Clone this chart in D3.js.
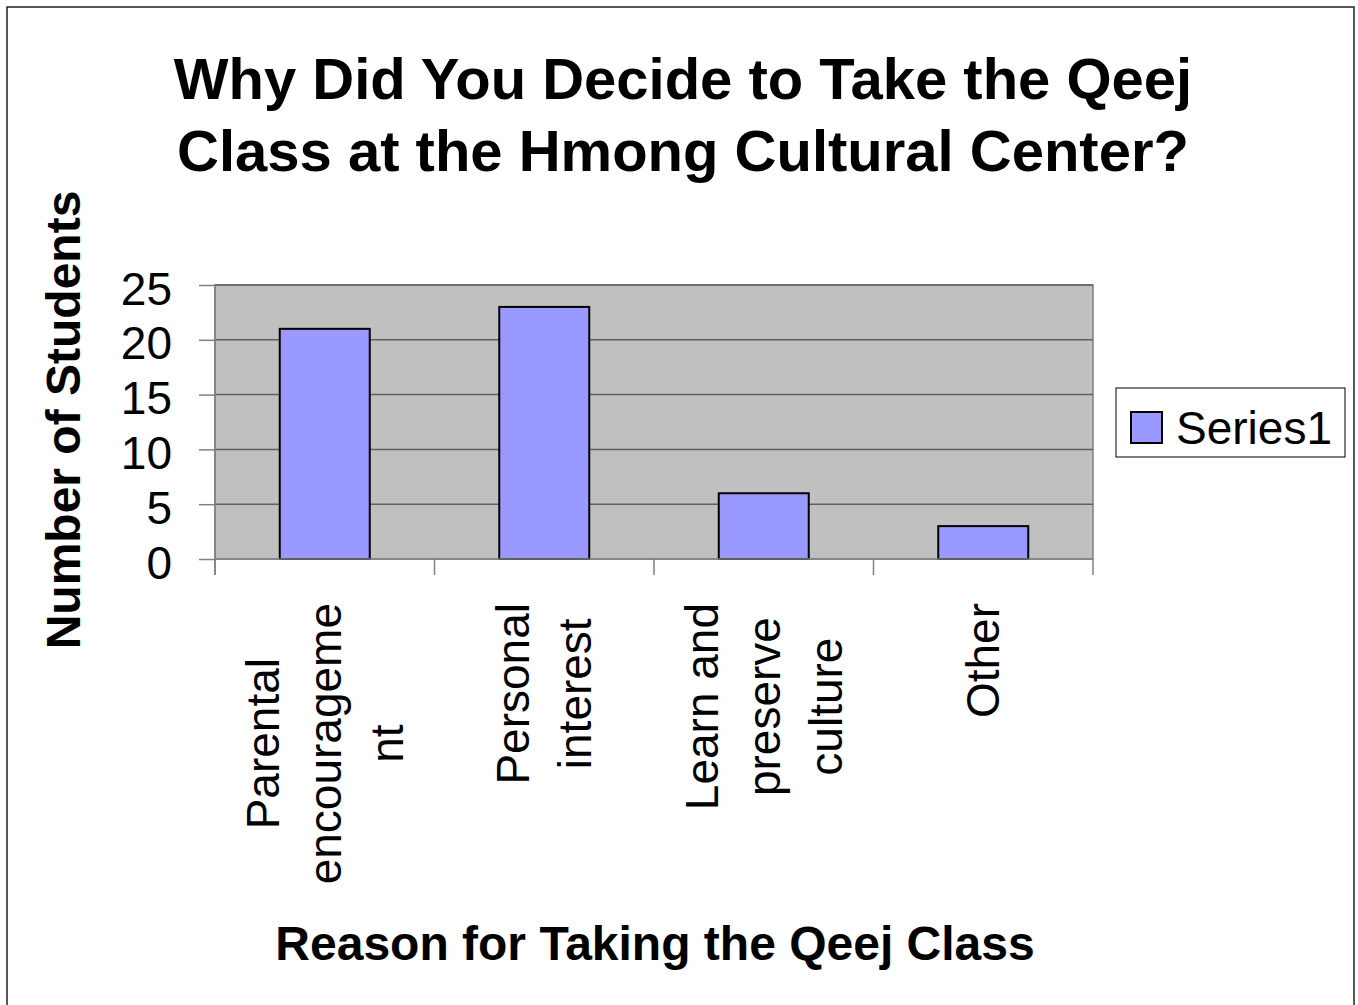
<!DOCTYPE html>
<html>
<head>
<meta charset="utf-8">
<script src="https://cdn.jsdelivr.net/npm/d3@7"></script>
<style>
  body { margin: 0; background: #fff; }
  svg { display: block; font-family: "Liberation Sans", Arial, sans-serif; }
</style>
</head>
<body>
<div id="chart"></div>
<script>
// data
const categories = ["Parental encouragement", "Personal interest", "Learn and preserve culture", "Other"];
// how excel wrapped the category labels
const categoryLines = [["Parental", "encourageme", "nt"], ["Personal", "interest"], ["Learn and", "preserve", "culture"], ["Other"]];
const series1 = [21, 23, 6, 3];
const yTicks = [0, 5, 10, 15, 20, 25];
const titleLines = ["Why Did You Decide to Take the Qeej", "Class at the Hmong Cultural Center?"];

const width = 1358, height = 1005;

const svg = d3.select("#chart")
    .append("svg")
    .attr("width", width)
    .attr("height", height);

// outer chart border
svg.append("rect")
    .attr("x", 7).attr("y", 7)
    .attr("width", 1347).attr("height", 1010)
    .style("fill", "#fff")
    .style("stroke", "#222")
    .style("stroke-width", 1.5);

const x = d3.scaleBand()
    .domain(categories)
    .range([215, 1093])
    .paddingInner(0.59)
    .paddingOuter(0.295);

const y = d3.scaleLinear()
    .domain([0, 25])
    .range([559, 285]);

// plot area
svg.append("rect")
    .attr("x", 215).attr("y", y(25))
    .attr("width", 1093 - 215).attr("height", y(0) - y(25))
    .style("fill", "#c0c0c0")
    .style("stroke", "#808080")
    .style("stroke-width", 1.5);

// gridlines
svg.selectAll(".grid")
    .data(yTicks.filter(d => d > 0))
    .enter()
    .append("line")
    .attr("x1", 215).attr("x2", 1093)
    .attr("y1", d => y(d)).attr("y2", d => y(d))
    .style("stroke", "#606060")
    .style("stroke-width", 1.5);

// bars
svg.selectAll(".bar")
    .data(series1)
    .enter()
    .append("rect")
    .attr("x", (d, i) => x(categories[i]))
    .attr("y", d => y(d))
    .attr("width", x.bandwidth())
    .attr("height", d => y(0) - y(d))
    .style("fill", "#9999ff")
    .style("stroke", "#000")
    .style("stroke-width", 2);

// y axis
const yAxis = svg.append("g")
    .attr("transform", "translate(215,0)")
    .call(d3.axisLeft(y).tickValues(yTicks).tickSize(16).tickPadding(27));
yAxis.select(".domain").attr("d", "M0," + (y(25)) + "V" + (y(0) + 16)).style("stroke", "#808080").style("stroke-width", 1.5);
yAxis.selectAll(".tick line").style("stroke", "#808080").style("stroke-width", 1.5);
yAxis.selectAll(".tick text")
    .attr("dy", "0.37em")
    .attr("y", 2)
    .style("font-size", "46px")
    .style("fill", "#000")
    .style("font-family", "'Liberation Sans', Arial, sans-serif");

// x axis: ticks on band boundaries
const boundaries = categories.map(c => x(c) - x.step() * x.paddingInner() / 2).concat([1093]);
boundaries[0] = 215;
svg.append("line")
    .attr("x1", 215).attr("x2", 1093)
    .attr("y1", y(0)).attr("y2", y(0))
    .style("stroke", "#808080").style("stroke-width", 1.5);
svg.selectAll(".xtick")
    .data(boundaries)
    .enter()
    .append("line")
    .attr("x1", d => d).attr("x2", d => d)
    .attr("y1", y(0)).attr("y2", y(0) + 16)
    .style("stroke", "#808080").style("stroke-width", 1.5);

// category labels, rotated, top of block at 603
const labelG = svg.selectAll(".cat")
    .data(categoryLines)
    .enter()
    .append("g")
    .attr("class", "cat");

labelG.each(function(lines, i) {
    const g = d3.select(this);
    const cx = x(categories[i]) + x.bandwidth() / 2;
    const txt = g.append("text")
        .attr("transform", "rotate(-90)")
        .style("font-size", "46px")
        .style("text-anchor", "middle");
    const spans = txt.selectAll("tspan")
        .data(lines)
        .enter()
        .append("tspan")
        .attr("y", (d, j) => cx + (j - (lines.length - 1) / 2) * 62 + 16)
        .text(d => d);
    let maxLen = 0;
    spans.each(function() { maxLen = Math.max(maxLen, this.getComputedTextLength()); });
    spans.attr("x", -(603 + maxLen / 2));
});

// title
svg.selectAll(".title")
    .data(titleLines)
    .enter()
    .append("text")
    .attr("x", 683)
    .attr("y", (d, i) => 99 + i * 72)
    .style("text-anchor", "middle")
    .style("font-size", "58px")
    .style("font-weight", "bold")
    .text(d => d);

// axis titles
svg.append("text")
    .attr("transform", "translate(80,420) rotate(-90)")
    .style("text-anchor", "middle")
    .style("font-size", "48px")
    .style("font-weight", "bold")
    .text("Number of Students");

svg.append("text")
    .attr("x", 655)
    .attr("y", 960)
    .style("text-anchor", "middle")
    .style("font-size", "48px")
    .style("font-weight", "bold")
    .text("Reason for Taking the Qeej Class");

// legend
svg.append("rect")
    .attr("x", 1116).attr("y", 388)
    .attr("width", 229).attr("height", 69)
    .style("fill", "#fff")
    .style("stroke", "#000")
    .style("stroke-width", 1);
svg.append("rect")
    .attr("x", 1131).attr("y", 412)
    .attr("width", 31).attr("height", 31)
    .style("fill", "#9999ff")
    .style("stroke", "#000")
    .style("stroke-width", 2);
svg.append("text")
    .attr("x", 1176)
    .attr("y", 444)
    .style("font-size", "46px")
    .text("Series1");
</script>
</body>
</html>
